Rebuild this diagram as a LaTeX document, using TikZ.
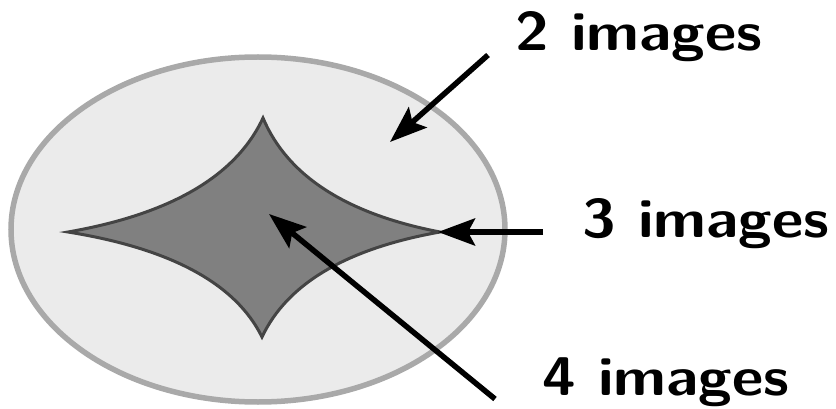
\documentclass[tikz,border=0pt]{standalone}
\usepackage{fontspec}
\usetikzlibrary{arrows.meta}
\definecolor{ellfill}{HTML}{EBEBEB}
\definecolor{elldraw}{HTML}{A9A9A9}
\definecolor{astfill}{HTML}{808080}
\definecolor{astdraw}{HTML}{444444}
\newcommand{\lbltext}[1]{\scalebox{1.12}[1]{#1}}
\tikzset{
  lbl/.style={anchor=base west, inner sep=0pt, font=\fontsize{54.5}{60}\selectfont\sffamily\bfseries},
  pointer/.style={line width=5.5pt, -{Stealth[length=37pt, width=27pt, inset=7pt]}},
}
\begin{document}
\begin{tikzpicture}[x=1pt, y=-1pt]
\useasboundingbox (0,0) rectangle (836,409);
% outer region
\draw[fill=ellfill, draw=elldraw, line width=5.5pt] (258,229.5) ellipse [x radius=247, y radius=172.5];
% caustic
\draw[fill=astfill, draw=astdraw, line width=3pt, line join=miter]
  (68,232) .. controls (171,214) and (236,176) .. (263,118)
  .. controls (287.5,176) and (346.5,214) .. (440,232)
  .. controls (346.5,248.6) and (287.2,283.6) .. (262,337)
  .. controls (235.7,283.6) and (171,248.6) .. (68,232) -- cycle;
% labels
\node[lbl] (two) at (515,51) {\lbltext{2 images}};
\node[lbl] (three) at (582,237) {\lbltext{3 images}};
\node[lbl] (four) at (542,395) {\lbltext{4 images}};
% pointer ends
\coordinate (t2) at (488,55);
\coordinate (h2) at (390,142);
\coordinate (t3) at (543,232);
\coordinate (h3) at (438,232);
\coordinate (t4) at (495,399);
\coordinate (h4) at (269,214);
\draw[pointer] (t2) -- (h2);
\draw[pointer] (t3) -- (h3);
\draw[pointer] (t4) -- (h4);
\end{tikzpicture}
\end{document}
